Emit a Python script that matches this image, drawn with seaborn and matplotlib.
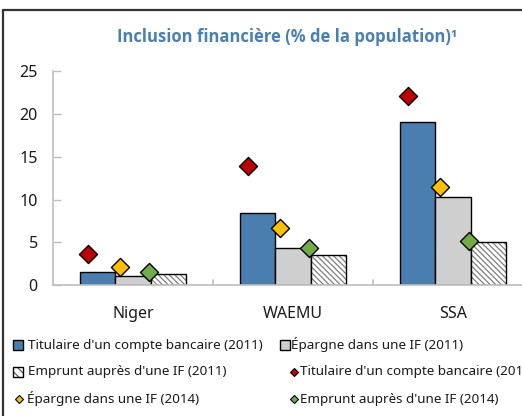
import matplotlib
matplotlib.use("Agg")
import matplotlib.pyplot as plt
import seaborn as sns
import pandas as pd
import numpy as np
from matplotlib.patches import Rectangle
from matplotlib.lines import Line2D

categories = ["Niger", "WAEMU", "SSA"]
bar_series = ["Titulaire d'un compte bancaire (2011)", "Épargne dans une IF (2011)", "Emprunt auprès d'une IF (2011)"]
bar_values = {
    bar_series[0]: [1.5, 8.4, 19.0],
    bar_series[1]: [1.1, 4.3, 10.3],
    bar_series[2]: [1.3, 3.5, 5.0],
}
dot_series = ["Titulaire d'un compte bancaire (2014)", "Épargne dans une IF (2014)", "Emprunt auprès d'une IF (2014)"]
dot_values = {
    dot_series[0]: [3.6, 13.9, 22.1],
    dot_series[1]: [2.1, 6.7, 11.5],
    dot_series[2]: [1.5, 4.3, 5.2],
}
yticks = [0, 5, 10, 15, 20, 25]
title = "Inclusion financière (% de la population)¹"

bar_colors = ["#4A7EAE", "#D0CFD0", "#FFFFFF"]
dot_colors = ["#C00000", "#FFC000", "#70AD47"]
dot_offsets = [-0.283, -0.083, 0.097]
HATCH = "\\\\\\\\\\\\"

sns.set_theme(style="white")
plt.rcParams["font.family"] = ["Noto Sans", "DejaVu Sans"]
plt.rcParams["hatch.linewidth"] = 0.9

W, H = 522, 416
fig = plt.figure(figsize=(W / 100, H / 100), dpi=100)
ax = fig.add_axes([53 / W, 130.7 / H, 480 / W, 214.3 / H])

rows = []
for s in bar_series:
    for c, v in zip(categories, bar_values[s]):
        rows.append({"cat": c, "series": s, "value": v})
df = pd.DataFrame(rows)

sns.barplot(data=df, x="cat", y="value", hue="series", order=categories,
            hue_order=bar_series, palette=bar_colors, width=0.667, gap=0,
            edgecolor="black", linewidth=1.0, saturation=1, legend=False, ax=ax)

# hatch the third series
for p in ax.containers[2]:
    p.set_hatch(HATCH)
    p.set_edgecolor("#7F7F7F")
    p.set_linewidth(0)
    ax.add_patch(Rectangle(p.get_xy(), p.get_width(), p.get_height(),
                           fill=False, edgecolor="black", linewidth=1.0, zorder=p.get_zorder() + 0.1))

xpos = np.arange(len(categories))
for s, col, off in zip(dot_series, dot_colors, dot_offsets):
    sns.scatterplot(x=xpos + off, y=dot_values[s], marker="D", s=85, color=col,
                    edgecolor="black", linewidth=1.0, zorder=5, ax=ax, legend=False)

ax.set_xlim(-0.5, 2.5)
ax.set_ylim(0, 25)
ax.set_yticks(yticks)
ax.set_xlabel("")
ax.set_ylabel("")
ax.set_xticks(xpos)
ax.set_xticklabels(categories, fontsize=11.5, color="#1a1a1a")
ax.tick_params(axis="x", length=0, pad=15)
ax.tick_params(axis="y", labelsize=11.5, labelcolor="#1a1a1a", length=6, direction="in",
               color="#BFBFBF", width=1, left=True, pad=11)
for sp in ["top", "right"]:
    ax.spines[sp].set_visible(False)
for sp in ["left", "bottom"]:
    ax.spines[sp].set_color("#BFBFBF")
    ax.spines[sp].set_linewidth(1.2)
# category separator ticks
for xs in [0.5, 1.5]:
    ax.plot([xs, xs], [0, 0.6], color="#BFBFBF", lw=1.2, clip_on=False, zorder=1)

fig.text(287 / W, 1 - 37 / H, title, ha="center", va="center", fontsize=12,
         fontweight="bold", family=["Open Sans", "DejaVu Sans"], color="#4A7FB0")

# legend (manual layout, two columns)
def fx(px):
    return px / W

def fy(py):
    return 1 - py / H

def square(cx, cy, face, hatch=None):
    s = 10
    if hatch:
        fig.add_artist(Rectangle((fx(cx - s / 2), fy(cy + s / 2)), s / W, s / H, transform=fig.transFigure,
                                 facecolor="white", edgecolor="#606060", hatch=hatch, linewidth=0))
        fig.add_artist(Rectangle((fx(cx - s / 2), fy(cy + s / 2)), s / W, s / H, transform=fig.transFigure,
                                 fill=False, edgecolor="black", linewidth=1.0))
    else:
        fig.add_artist(Rectangle((fx(cx - s / 2), fy(cy + s / 2)), s / W, s / H, transform=fig.transFigure,
                                 facecolor=face, edgecolor="black", linewidth=1.0))

def diamond(cx, cy, face):
    fig.add_artist(Line2D([fx(cx)], [fy(cy)], marker="D", markersize=4.2, markerfacecolor=face,
                          markeredgecolor="black", markeredgewidth=0.8, ls="none",
                          transform=fig.transFigure))

LFS = 9.7
square(18, 345, bar_colors[0])
fig.text(fx(28), fy(345), bar_series[0], fontsize=LFS, va="center", color="#1a1a1a")
square(285, 345, bar_colors[1])
fig.text(fx(291), fy(345), bar_series[1], fontsize=LFS, va="center", color="#1a1a1a")
square(18, 372, None, hatch="\\\\\\\\")
fig.text(fx(28), fy(372), bar_series[2], fontsize=LFS, va="center", color="#1a1a1a")
diamond(294, 372, dot_colors[0])
fig.text(fx(300), fy(372), dot_series[0], fontsize=LFS, va="center", color="#1a1a1a")
diamond(19, 399, dot_colors[1])
fig.text(fx(27), fy(399), dot_series[1], fontsize=LFS, va="center", color="#1a1a1a")
diamond(294, 399, dot_colors[2])
fig.text(fx(300), fy(399), dot_series[2], fontsize=LFS, va="center", color="#1a1a1a")

# outer frame
fig.add_artist(Line2D([3 / W, 3 / W], [0, 1 - 10 / H], color="#333333", lw=1.6,
                      transform=fig.transFigure))
fig.add_artist(Line2D([3 / W, 1.0], [1 - 10 / H, 1 - 10 / H], color="#333333", lw=1.6,
                      transform=fig.transFigure))

fig.savefig("out.png", dpi=100)
